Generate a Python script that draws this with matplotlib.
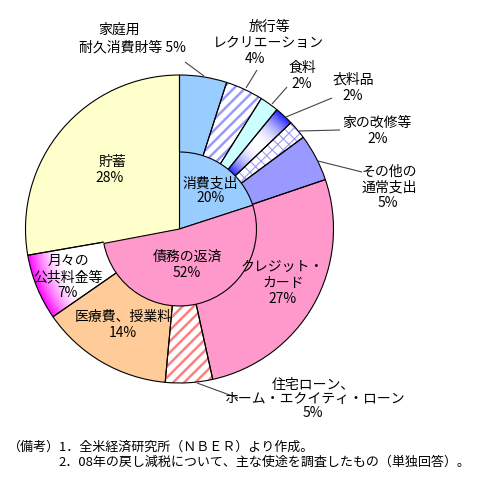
import numpy as np
import matplotlib
matplotlib.use('Agg')
import matplotlib.pyplot as plt
from matplotlib.patches import Wedge

plt.rcParams['font.family'] = ['Noto Sans CJK JP', 'DejaVu Sans']
plt.rcParams['hatch.linewidth'] = 1.8

# ---------------- data ----------------
outer_labels = ['家庭用耐久消費財等', '旅行等レクリエーション', '食料', '衣料品', '家の改修等',
                'その他の通常支出', 'クレジット・カード', '住宅ローン、ホーム・エクイティ・ローン',
                '医療費、授業料', '月々の公共料金等', '貯蓄']
outer_values = [5, 4, 2, 2, 2, 5, 27, 5, 14, 7, 28]
outer_colors = ['#99CCFF', '#FFFFFF', '#CCFFFF', '#FFFFFF', '#FFFFFF',
                '#9999FF', '#FF99CC', '#FFFFFF', '#FFCC99', '#FFFFFF', '#FFFFCC']
inner_labels = ['消費支出', '債務の返済', '貯蓄']
inner_values = [20, 52, 28]
inner_colors = ['#99CCFF', '#FF99CC', '#FFFFCC']

notes = ['（備考）1．全米経済研究所（ＮＢＥＲ）より作成。',
         '2．08年の戻し減税について、主な使途を調査したもの（単独回答）。']

W, H = 503, 491
fig = plt.figure(figsize=(W / 100, H / 100), dpi=100)
ax = fig.add_axes([0, 0, 1, 1])


def P(x, y):
    return (x, H - y)


def fix_axes():
    ax.set_xlim(0, W)
    ax.set_ylim(0, H)
    ax.axis('off')
    ax.set_aspect('auto')


cx, cy = P(179.5, 229)
R = 154
r_in = R * 0.5

# outer pie
wedges, _ = ax.pie(outer_values, colors=outer_colors, startangle=90, counterclock=False,
                   center=(cx, cy), radius=R, frame=True,
                   wedgeprops=dict(edgecolor='none', linewidth=0))
fix_axes()

# hatched wedges
hatch_spec = {1: ('#9999FF', '///', 1.8), 7: ('#FF7F7F', '///', 1.8), 4: ('#9999FF', 'xxx', 0.8)}
for i, (hc, hp, lw_h) in hatch_spec.items():
    w = wedges[i]
    with plt.rc_context({'hatch.linewidth': lw_h}):
        hw = Wedge(w.center, w.r, w.theta1, w.theta2, facecolor='none', edgecolor=hc,
                   hatch=hp, linewidth=0, zorder=1.6)
        ax.add_patch(hw)

# gradient wedges
n = 500
xs = np.linspace(cx - R, cx + R, n)
ys = np.linspace(cy - R, cy + R, n)
X, Y = np.meshgrid(xs, ys)
rr = np.hypot(X - cx, Y - cy)
t = np.clip((rr - r_in) / (R - r_in), 0, 1)
white = np.array([1.0, 1.0, 1.0])

# 衣料品: blue - white - blue
wt = np.abs(2 * t - 1) ** 2.0
blue = np.array([0.15, 0.15, 1.0])
img1 = white * (1 - wt[..., None]) + blue * wt[..., None]
im1 = ax.imshow(img1, extent=(cx - R, cx + R, cy - R, cy + R), origin='lower',
                zorder=1.5, interpolation='bilinear', aspect='auto')
im1.set_clip_path(wedges[3])

# 月々の公共料金等: white -> magenta toward outside
wt2 = np.clip((t - 0.55) / 0.45, 0, 1) ** 1.6
mag = np.array([1.0, 0.0, 1.0])
img2 = white * (1 - wt2[..., None]) + mag * wt2[..., None]
im2 = ax.imshow(img2, extent=(cx - R, cx + R, cy - R, cy + R), origin='lower',
                zorder=1.5, interpolation='bilinear', aspect='auto')
im2.set_clip_path(wedges[9])
fix_axes()

# outlines of outer wedges
for w in wedges:
    ax.add_patch(Wedge(w.center, w.r, w.theta1, w.theta2, facecolor='none',
                       edgecolor='black', linewidth=0.8, zorder=2))

# inner pie
iw, _ = ax.pie(inner_values, colors=inner_colors, startangle=90, counterclock=False,
               center=(cx, cy), radius=r_in, frame=True,
               wedgeprops=dict(edgecolor='black', linewidth=0.8))
for w in iw:
    w.set_zorder(3)
iw[2].set_edgecolor('none')
iw[2].set_linewidth(0)
iw[2].set_zorder(2.9)
fix_axes()

fs = 10


def txt(x, y, s, ha='center', size=fs):
    ax.text(*P(x, y), s, ha=ha, va='center', fontsize=size, color='black', zorder=6)


def lead(x1, y1, x2, y2):
    ax.plot([x1, x2], [H - y1, H - y2], color='#444444', lw=0.8, zorder=5,
            solid_capstyle='butt')


# outside labels
txt(119, 30, '家庭用')
txt(132, 47, '耐久消費財等 5%')
lead(185, 62, 204, 76)

txt(269, 27, '旅行等')
txt(268, 43, 'レクリエーション')
txt(255, 59, '4%')
lead(257, 70, 246, 88)

txt(302, 68, '食料')
txt(302, 84, '2%')
lead(287, 87, 272, 104)

txt(353, 79, '衣料品')
txt(353, 96, '2%')
lead(332, 98, 286, 117)

txt(377, 123, '家の改修等')
txt(378, 139, '2%')
lead(340, 130, 299, 131)

txt(389, 172, 'その他の')
txt(389, 187, '通常支出')
txt(388, 203, '5%')
lead(362, 172, 318, 161)

txt(313, 385, '住宅ローン、')
txt(315, 399, 'ホーム・エクイティ・ローン')
txt(313, 413, '5%')
lead(238, 398, 197, 383)

# inside labels
txt(112, 162, '貯蓄')
txt(110, 178, '28%')
txt(210, 183, '消費支出')
txt(211, 198, '20%')
txt(187, 257, '債務の返済')
txt(187, 273, '52%')
txt(282, 267, 'クレジット・')
txt(283, 283, 'カード')
txt(283, 299, '27%')
txt(68, 261, '月々の')
txt(68, 277, '公共料金等')
txt(68, 293, '7%')
txt(123, 317, '医療費、授業料')
txt(123, 333, '14%')

# notes
txt(8, 447, notes[0], ha='left', size=9.4)
txt(58, 462, notes[1], ha='left', size=9.4)

fig.savefig('out.png', dpi=100)
